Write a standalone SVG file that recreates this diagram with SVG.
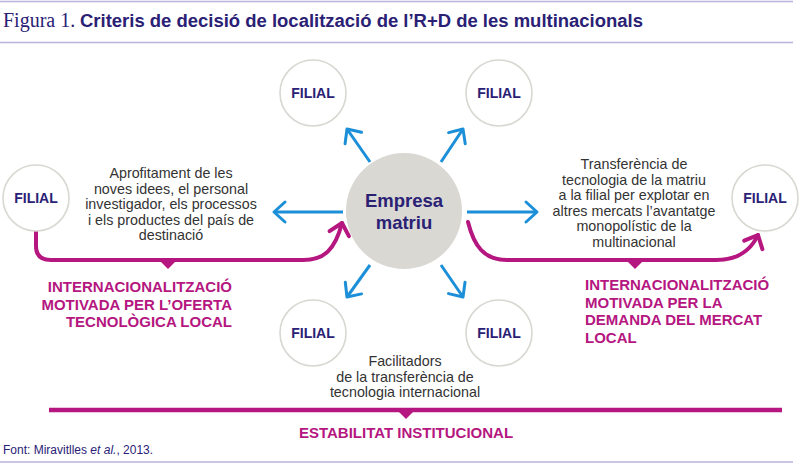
<svg xmlns="http://www.w3.org/2000/svg" width="800" height="469" viewBox="0 0 800 469">
<defs>
<style>
.rule{stroke:#b9b5dc;stroke-width:1.5;fill:none}
.filial{fill:#fff;stroke:#d8d7d2;stroke-width:1.6}
.ftxt{font-family:"Liberation Sans",Arial,sans-serif;font-weight:bold;font-size:14px;fill:#2a2175;text-anchor:middle}
.blue{stroke:#1b8fd8;stroke-width:3;fill:none;marker-end:url(#ab)}
.mag{stroke:#b5167f;stroke-width:4;fill:none;stroke-linecap:round}
.desc{font-family:"Liberation Sans",Arial,sans-serif;font-size:14.3px;fill:#333;text-anchor:middle}
.lab{font-family:"Liberation Sans",Arial,sans-serif;font-weight:bold;font-size:15px;fill:#b5167f}
</style>
<marker id="ab" markerUnits="userSpaceOnUse" viewBox="-14 -14 28 28" markerWidth="28" markerHeight="28" refX="0" refY="0" orient="auto" overflow="visible">
<path d="M-11,-10 L0,0 L-11,10" fill="none" stroke="#1b8fd8" stroke-width="3" stroke-linecap="round" stroke-linejoin="round"/>
</marker>
<marker id="am" markerUnits="userSpaceOnUse" viewBox="-14 -14 28 28" markerWidth="28" markerHeight="28" refX="0" refY="0" orient="auto" overflow="visible">
<path d="M-11,-10 L0,0 L-11,10" fill="none" stroke="#b5167f" stroke-width="4" stroke-linecap="round" stroke-linejoin="round"/>
</marker>
</defs>
<rect width="800" height="469" fill="#fff"/>

<g id="title">
<line class="rule" x1="0" y1="1.5" x2="793" y2="1.5"/>
<text x="3" y="27" font-family="Liberation Serif,'Times New Roman',serif" font-size="20" fill="#2a2175">Figura 1.</text>
<text x="80" y="27" font-family="Liberation Sans,Arial,sans-serif" font-weight="bold" font-size="17.5" fill="#2a2175" textLength="563" lengthAdjust="spacingAndGlyphs">Criteris de decisió de localització de l’R+D de les multinacionals</text>
<line class="rule" x1="0" y1="42.5" x2="793" y2="42.5"/>
</g>

<g id="connectors">
<path class="blue" d="M370,162 L347,129"/>
<path class="blue" d="M441,162 L463,129"/>
<path class="blue" d="M370,265 L347,297"/>
<path class="blue" d="M441,265 L463,297"/>
<path class="blue" d="M343,212 L274,212"/>
<path class="blue" d="M467,212 L537,212"/>
<path class="mag" marker-end="url(#am)" d="M36,231 V246 Q36,260 51,260 H303 C324,260 335,250 342,223"/>
<polygon points="160,261 176,261 168,269" fill="#b5167f"/>
<path class="mag" marker-end="url(#am)" d="M468,222 C474,246 484,260 507,260 H716 C736,260 750,252 758,235"/>
<polygon points="627,261 643,261 635,269" fill="#b5167f"/>
<line x1="49" y1="410" x2="782" y2="410" stroke="#b5167f" stroke-width="4.5"/>
<polygon points="398,411 414,411 406,419" fill="#b5167f"/>
</g>

<g id="matriu">
<circle cx="404" cy="211" r="58" fill="#d9d8d3"/>
<text x="404" y="207" font-family="Liberation Sans,Arial,sans-serif" font-weight="bold" font-size="18.5" fill="#2a2175" text-anchor="middle">Empresa</text>
<text x="404" y="229" font-family="Liberation Sans,Arial,sans-serif" font-weight="bold" font-size="18.5" fill="#2a2175" text-anchor="middle">matriu</text>
</g>

<g id="filial-tl"><circle class="filial" cx="313" cy="93" r="33"/><text class="ftxt" x="313" y="98">FILIAL</text></g>
<g id="filial-tr"><circle class="filial" cx="499" cy="93" r="33"/><text class="ftxt" x="499" y="98">FILIAL</text></g>
<g id="filial-bl"><circle class="filial" cx="313" cy="333" r="33"/><text class="ftxt" x="313" y="338">FILIAL</text></g>
<g id="filial-br"><circle class="filial" cx="499" cy="333" r="33"/><text class="ftxt" x="499" y="338">FILIAL</text></g>
<g id="filial-l"><circle class="filial" cx="36" cy="198" r="33"/><text class="ftxt" x="36" y="203">FILIAL</text></g>
<g id="filial-r"><circle class="filial" cx="765" cy="198" r="33"/><text class="ftxt" x="765" y="203">FILIAL</text></g>

<g id="desc-left" class="desc">
<text x="171" y="178">Aprofitament de les</text>
<text x="171" y="193.5">noves idees, el personal</text>
<text x="171" y="209">investigador, els processos</text>
<text x="171" y="224.5">i els productes del país de</text>
<text x="171" y="240">destinació</text>
</g>

<g id="desc-right" class="desc">
<text x="634" y="169">Transferència de</text>
<text x="634" y="184.5">tecnologia de la matriu</text>
<text x="634" y="200">a la filial per explotar en</text>
<text x="634" y="215.5">altres mercats l’avantatge</text>
<text x="634" y="231">monopolístic de la</text>
<text x="634" y="246.5">multinacional</text>
</g>

<g id="desc-bottom" class="desc">
<text x="405" y="366">Facilitadors</text>
<text x="405" y="381.5">de la transferència de</text>
<text x="405" y="397">tecnologia internacional</text>
</g>

<g id="label-left" class="lab" text-anchor="end">
<text x="232" y="292">INTERNACIONALITZACIÓ</text>
<text x="232" y="309.5">MOTIVADA PER L’OFERTA</text>
<text x="232" y="327">TECNOLÒGICA LOCAL</text>
</g>

<g id="label-right" class="lab">
<text x="585" y="290">INTERNACIONALITZACIÓ</text>
<text x="585" y="307.5">MOTIVADA PER LA</text>
<text x="585" y="325">DEMANDA DEL MERCAT</text>
<text x="585" y="342.5">LOCAL</text>
</g>

<g id="label-bottom">
<text class="lab" x="406" y="438" text-anchor="middle">ESTABILITAT INSTITUCIONAL</text>
</g>

<g id="source">
<text x="3" y="454" font-family="Liberation Sans,Arial,sans-serif" font-size="12" fill="#2a2175">Font: Miravitlles <tspan font-style="italic">et al.</tspan>, 2013.</text>
<line class="rule" x1="0" y1="462" x2="793" y2="462"/>
</g>
</svg>
